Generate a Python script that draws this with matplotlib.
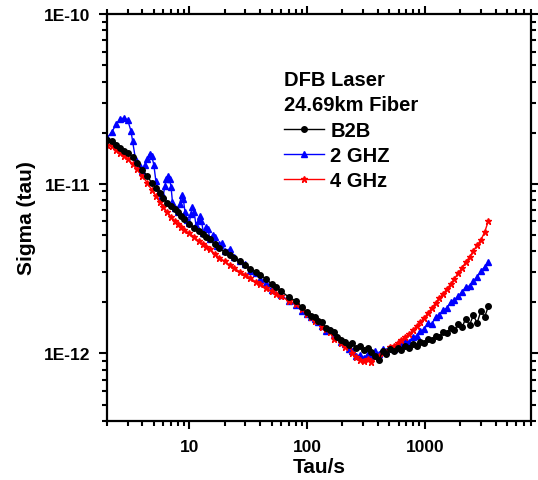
import matplotlib
matplotlib.use("Agg")
import matplotlib.pyplot as plt
from matplotlib.ticker import FixedLocator, FixedFormatter, LogLocator, NullFormatter

plt.rcParams['font.family'] = ['Liberation Sans', 'DejaVu Sans']
plt.rcParams['font.weight'] = 'bold'

# ---- data (tau in s, sigma in units of 1e-12) ----
tau_b2b = [2.0, 2.2, 2.4, 2.6, 2.8, 3.0, 3.3, 3.6, 4.0, 4.4, 4.8, 5.2, 5.6, 6.0, 6.5, 7.0, 7.5, 8.0,
           8.5, 9.0, 10, 11, 12, 13, 14, 15, 16.5, 18, 20, 22, 24, 27, 30, 33, 37, 40, 45, 50, 55,
           60, 70, 80, 90,
           100, 108, 116, 125, 135, 145, 156, 168, 181, 195, 210, 226, 243, 262, 282, 304, 327,
           352, 379, 408, 439, 473, 509, 548, 590, 635, 684, 736, 793, 854, 919, 990, 1066, 1148,
           1236, 1331, 1433, 1543, 1661, 1789, 1926, 2074, 2233, 2404, 2589, 2787, 3001, 3231, 3479]
sig_b2b = [18.1, 17.8, 16.9, 16.2, 15.6, 15.2, 14.4, 13.2, 12.0, 11.1, 10.1, 9.43, 8.82, 8.24, 7.70,
           7.39, 7.10, 6.81, 6.45, 6.19, 5.79, 5.48, 5.26, 5.05, 4.85, 4.72, 4.41, 4.18, 3.96, 3.80,
           3.65, 3.50, 3.32, 3.14, 3.02, 2.90, 2.75, 2.56, 2.46, 2.33, 2.15, 2.04, 1.88,
           1.75, 1.66, 1.64, 1.55, 1.53, 1.41, 1.37, 1.34, 1.25, 1.20, 1.17, 1.12, 1.15, 1.08, 1.11,
           1.05, 1.08, 1.02, 0.965, 0.914, 1.03, 0.992, 1.06, 1.03, 1.08, 1.05, 1.11, 1.08, 1.14,
           1.11, 1.17, 1.15, 1.22, 1.20, 1.27, 1.25, 1.34, 1.32, 1.41, 1.37, 1.49, 1.43, 1.60, 1.47,
           1.68, 1.51, 1.78, 1.64, 1.90]

tau_2g = [2.0, 2.2, 2.4, 2.6, 2.8, 3.0, 3.2, 3.3, 3.5, 3.8, 4.0, 4.2, 4.4, 4.6, 4.8, 5.0, 5.2, 5.5,
          5.8, 6.0, 6.2, 6.4, 6.6, 6.8, 7.0, 7.2, 7.6, 8.0, 8.3, 8.6, 8.9, 9.2, 9.6, 10.0, 10.3,
          10.6, 11.0, 11.4, 12.0, 12.3, 12.7, 13.2, 14.0, 14.4, 15.0, 16.0, 16.6, 17.2, 18.0, 19.0,
          20.0, 22.0, 24.0, 27.0, 30.0, 33.0, 37.0, 40.0, 45.0, 50.0, 60.0, 70.0, 80.0, 90.0,
          100, 108, 116, 125, 135, 145, 156, 168, 181, 195, 210, 226, 243, 262, 282, 304, 327,
          352, 379, 408, 439, 473, 509, 548, 590, 635, 684, 736, 793, 854, 919, 990, 1066, 1148,
          1236, 1331, 1433, 1543, 1661, 1789, 1926, 2074, 2233, 2404, 2589, 2787, 3001, 3231, 3479]
sig_2g = [18.6, 20.2, 22.5, 24.1, 24.4, 23.7, 20.4, 17.8, 13.8, 12.7, 11.9, 12.9, 14.0, 15.0, 14.6,
          12.9, 10.4, 8.94, 8.35, 8.46, 9.69, 10.7, 11.1, 10.7, 9.56, 7.80, 7.19, 6.81, 7.59, 8.58,
          8.13, 6.81, 6.11, 5.87, 6.63, 7.29, 6.81, 5.71, 6.11, 6.45, 6.03, 5.12, 5.56, 5.41, 4.72,
          4.99, 4.85, 4.29, 4.41, 4.47, 4.01, 4.12, 3.70, 3.50, 3.36, 3.06, 2.98, 2.75, 2.60, 2.36,
          2.21, 2.04, 1.93, 1.78,
          1.71, 1.64, 1.60, 1.53, 1.45, 1.35, 1.37, 1.28, 1.25, 1.17, 1.14, 1.06, 1.03, 0.965, 0.98,
          0.94, 0.992, 0.965, 1.03, 0.99, 1.06, 1.03, 1.08, 1.06, 1.14, 1.12, 1.18, 1.17, 1.25,
          1.27, 1.35, 1.39, 1.51, 1.49, 1.64, 1.68, 1.80, 1.85, 2.01, 2.06, 2.18, 2.30, 2.46, 2.50,
          2.67, 2.82, 3.06, 3.23, 3.46]

tau_4g = tau_b2b
sig_4g = [16.9, 16.7, 15.8, 15.2, 14.6, 14.0, 13.1, 12.2, 11.1, 10.1, 9.18, 8.46, 7.80, 7.29, 6.81,
          6.37, 6.03, 5.79, 5.56, 5.34, 5.12, 4.85, 4.60, 4.41, 4.24, 4.12, 3.85, 3.65, 3.50, 3.32,
          3.19, 3.02, 2.90, 2.78, 2.63, 2.56, 2.43, 2.33, 2.24, 2.18, 2.04, 1.96, 1.83,
          1.71, 1.64, 1.55, 1.55, 1.43, 1.39, 1.34, 1.22, 1.23, 1.15, 1.09, 1.12, 1.01, 0.952, 0.914,
          0.902, 0.927, 0.89, 0.952, 0.965, 1.01, 1.02, 1.09, 1.11, 1.15, 1.20, 1.25, 1.30, 1.37,
          1.45, 1.53, 1.62, 1.73, 1.85, 1.98, 2.12, 2.24, 2.40, 2.56, 2.75, 2.98, 3.19, 3.46, 3.70,
          4.01, 4.35, 4.66, 5.19, 6.05]
unit = 1e-12

series_labels = ['B2B', '2 GHZ', '4 GHz']
legend_title = 'DFB Laser\n24.69km Fiber'
x_ticks = [10, 100, 1000]
x_ticklabels = ['10', '100', '1000']
y_ticks = [1e-12, 1e-11, 1e-10]
y_ticklabels = ['1E-12', '1E-11', '1E-10']

fig = plt.figure(figsize=(5.38, 4.81), dpi=100)
ax = fig.add_axes([107/538, 1-422/481, 424/538, 407/481])

ax.plot(tau_b2b, [v*unit for v in sig_b2b], color='black', marker='o', ms=4, lw=1.0,
        label=series_labels[0], zorder=3)
ax.plot(tau_2g, [v*unit for v in sig_2g], color='#0000ff', marker='^', ms=4.5, lw=1.0,
        label=series_labels[1], zorder=2)
ax.plot(tau_4g, [v*unit for v in sig_4g], color='#ff0000', marker='*', ms=5, lw=1.0,
        label=series_labels[2], zorder=2)

ax.set_xscale('log')
ax.set_yscale('log')
ax.set_xlim(2, 8000)
ax.set_ylim(4e-13, 1e-10)

ax.xaxis.set_major_locator(FixedLocator(x_ticks))
ax.xaxis.set_major_formatter(FixedFormatter(x_ticklabels))
ax.yaxis.set_major_locator(FixedLocator(y_ticks))
ax.yaxis.set_major_formatter(FixedFormatter(y_ticklabels))
ax.xaxis.set_minor_locator(LogLocator(base=10, subs=range(2, 10), numticks=20))
ax.yaxis.set_minor_locator(LogLocator(base=10, subs=range(2, 10), numticks=20))
ax.xaxis.set_minor_formatter(NullFormatter())
ax.yaxis.set_minor_formatter(NullFormatter())

for s in ax.spines.values():
    s.set_linewidth(1.6)
ax.tick_params(which='both', direction='out', top=True, right=True, width=1.5)
ax.tick_params(which='major', length=6)
ax.tick_params(which='minor', length=3.5)
ax.tick_params(axis='x', which='major', pad=7, labelsize=12.5)
ax.tick_params(axis='y', which='major', pad=6, labelsize=12.5)

ax.set_xlabel('Tau/s', fontsize=15, fontweight='bold', labelpad=2)
ax.set_ylabel('Sigma (tau)', fontsize=15, fontweight='bold', labelpad=6)

leg = ax.legend(loc='upper left', bbox_to_anchor=((284-107)/424, 1-(71-15)/407),
                frameon=False, title=legend_title, alignment='left', numpoints=1,
                handlelength=2.0, handletextpad=0.3, labelspacing=0.3, borderpad=0,
                borderaxespad=0, prop={'size': 14.5, 'weight': 'bold'},
                title_fontproperties={'size': 14.5, 'weight': 'bold'})
leg.get_title().set_linespacing(1.42)
leg._legend_box.sep = 5

fig.savefig('out.png', dpi=100)
